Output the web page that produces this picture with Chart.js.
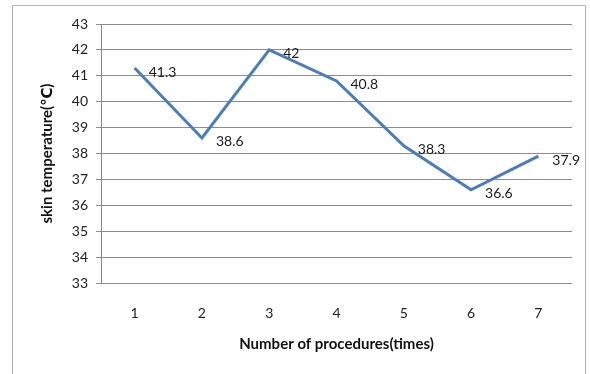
<!DOCTYPE html>
<html>
<head>
<meta charset="utf-8">
<script src="https://cdn.jsdelivr.net/npm/chart.js@4/dist/chart.umd.min.js"></script>
<style>
  html, body { margin: 0; padding: 0; background: #ffffff; }
  #wrap { width: 590px; height: 374px; position: relative; }
</style>
</head>
<body>
<div id="wrap"><canvas id="c" width="590" height="374"></canvas></div>
<script>
// Procedure count on the x axis, measured skin temperature on the y axis
const procedures = ['1', '2', '3', '4', '5', '6', '7'];
const skinTemperature = [41.3, 38.6, 42, 40.8, 38.3, 36.6, 37.9];
const yMin = 33;
const yMax = 43;
const yStep = 1;
const xTitle = 'Number of procedures(times)';
const yTitle = 'skin temperature(\u2103)';

const FONT = 'Lato, "Open Sans", "DejaVu Sans", sans-serif';

// Thin grey frame around the whole chart
const framePlugin = {
  id: 'frame',
  beforeDraw(chart) {
    const ctx = chart.ctx;
    ctx.save();
    ctx.fillStyle = '#ffffff';
    ctx.fillRect(0, 0, chart.width, chart.height);
    ctx.strokeStyle = '#b4b4b4';
    ctx.lineWidth = 1;
    ctx.beginPath();
    ctx.moveTo(12.5, chart.height + 2);
    ctx.lineTo(12.5, 5.5);
    ctx.lineTo(585.5, 5.5);
    ctx.lineTo(585.5, chart.height + 2);
    ctx.stroke();
    ctx.restore();
  }
};

// Value written just to the right of each point
const valueLabels = {
  id: 'valueLabels',
  afterDatasetsDraw(chart) {
    const ctx = chart.ctx;
    const meta = chart.getDatasetMeta(0);
    const data = chart.data.datasets[0].data;
    ctx.save();
    ctx.font = '14px ' + FONT;
    ctx.fillStyle = '#1a1a1a';
    ctx.textAlign = 'left';
    ctx.textBaseline = 'middle';
    meta.data.forEach((pt, i) => {
      ctx.fillText(String(data[i]), pt.x + 14, pt.y + 4);
    });
    ctx.restore();
  }
};

new Chart(document.getElementById('c'), {
  type: 'line',
  data: {
    labels: procedures,
    datasets: [{
      data: skinTemperature,
      borderColor: '#4a7ebb',
      borderWidth: 3,
      pointRadius: 0,
      pointHoverRadius: 0,
      tension: 0,
      fill: false
    }]
  },
  options: {
    responsive: false,
    animation: false,
    devicePixelRatio: 1,
    layout: { padding: { left: 30, right: 18, top: 24, bottom: 15 } },
    plugins: {
      legend: { display: false },
      tooltip: { enabled: false }
    },
    scales: {
      x: {
        offset: true,
        grid: { display: false, drawTicks: false },
        border: { display: false },
        ticks: {
          color: '#222222',
          font: { family: FONT, size: 14 },
          padding: 22,
          maxRotation: 0
        },
        title: {
          display: true,
          text: xTitle,
          color: '#111111',
          font: { family: FONT, size: 15, weight: 'bold' },
          padding: { top: 0, bottom: 6 }
        },
        afterFit(scale) { scale.height = 76; }
      },
      y: {
        min: yMin,
        max: yMax,
        grid: { color: '#8c8c8c', lineWidth: 1, drawTicks: true, tickLength: 5 },
        border: { display: true, color: '#8c8c8c', width: 1 },
        ticks: {
          stepSize: yStep,
          color: '#222222',
          font: { family: FONT, size: 14 },
          padding: 8
        },
        title: {
          display: true,
          text: yTitle,
          color: '#111111',
          font: { family: FONT, size: 15, weight: 'bold' },
          padding: { top: 8, bottom: 0 }
        },
        afterFit(scale) { scale.width = 71; }
      }
    }
  },
  plugins: [framePlugin, valueLabels]
});
</script>
</body>
</html>
